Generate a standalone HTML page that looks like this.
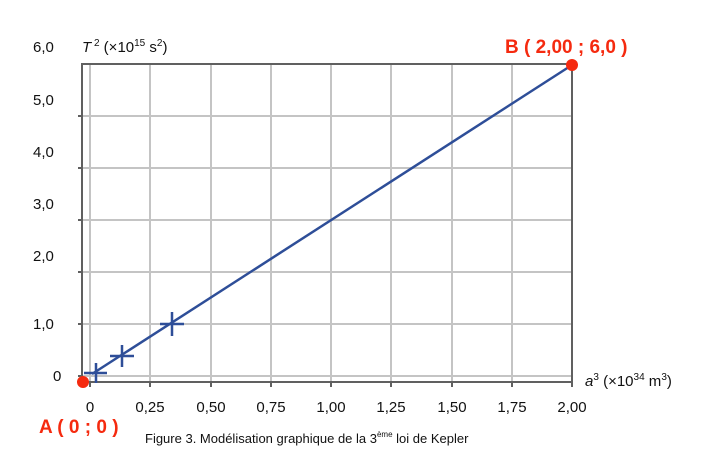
<!DOCTYPE html>
<html><head><meta charset="utf-8"><style>
body{margin:0;background:#fff;width:704px;height:470px;overflow:hidden}
</style></head><body>
<svg width="704" height="470" xmlns="http://www.w3.org/2000/svg" font-family="'Liberation Sans',sans-serif">
<g stroke="#c4c4c4" stroke-width="2">
<line x1="90" y1="64" x2="90" y2="382"/><line x1="150" y1="64" x2="150" y2="382"/><line x1="211" y1="64" x2="211" y2="382"/><line x1="271" y1="64" x2="271" y2="382"/><line x1="331" y1="64" x2="331" y2="382"/><line x1="391" y1="64" x2="391" y2="382"/><line x1="452" y1="64" x2="452" y2="382"/><line x1="512" y1="64" x2="512" y2="382"/>
<line x1="82" y1="116" x2="572" y2="116"/><line x1="82" y1="168" x2="572" y2="168"/><line x1="82" y1="220" x2="572" y2="220"/><line x1="82" y1="272" x2="572" y2="272"/><line x1="82" y1="324" x2="572" y2="324"/><line x1="82" y1="376" x2="572" y2="376"/>
</g>
<g stroke="#606060" stroke-width="2" fill="none">
<rect x="82" y="64" width="490" height="318"/>
<path d="M78 116H82M78 168H82M78 220H82M78 272H82M78 324H82M78 376H82M90 382V387M150 382V387M211 382V387M271 382V387M331 382V387M391 382V387M452 382V387M512 382V387M572 382V387"/>
</g>
<g stroke="#2e4e98" stroke-width="2.5" fill="none">
<line x1="92" y1="374" x2="572" y2="65"/>
<path d="M84 373H107M96 363V383M110 356H134M122 345V367M160 324H184M172 312V336"/>
</g>
<circle cx="83" cy="382" r="6" fill="#f52a0f"/>
<circle cx="572" cy="65" r="6" fill="#f52a0f"/>
<g font-size="15" fill="#111">
<text x="33" y="52">6,0</text><text x="33" y="105">5,0</text><text x="33" y="157">4,0</text><text x="33" y="209">3,0</text><text x="33" y="261">2,0</text><text x="33" y="329">1,0</text><text x="53" y="381">0</text>
<text x="90" y="412" text-anchor="middle">0</text><text x="150" y="412" text-anchor="middle">0,25</text><text x="211" y="412" text-anchor="middle">0,50</text><text x="271" y="412" text-anchor="middle">0,75</text><text x="331" y="412" text-anchor="middle">1,00</text><text x="391" y="412" text-anchor="middle">1,25</text><text x="452" y="412" text-anchor="middle">1,50</text><text x="512" y="412" text-anchor="middle">1,75</text><text x="572" y="412" text-anchor="middle">2,00</text>
<text x="82" y="52"><tspan font-style="italic">T</tspan><tspan font-size="10" dy="-6"> 2</tspan><tspan dy="6"> (×10</tspan><tspan font-size="10" dy="-6">15</tspan><tspan dy="6"> s</tspan><tspan font-size="10" dy="-6">2</tspan><tspan dy="6">)</tspan></text>
<text x="585" y="386"><tspan font-style="italic">a</tspan><tspan font-size="10" dy="-6">3</tspan><tspan dy="6"> (×10</tspan><tspan font-size="10" dy="-6">34</tspan><tspan dy="6"> m</tspan><tspan font-size="10" dy="-6">3</tspan><tspan dy="6">)</tspan></text>
</g>
<g font-size="19" font-weight="bold" fill="#f52a0f">
<text x="39" y="433">A ( 0 ; 0 )</text>
<text x="505" y="53">B ( 2,00 ; 6,0 )</text>
</g>
<text x="145" y="443" font-size="13" fill="#111">Figure 3. Modélisation graphique de la 3<tspan font-size="8" dy="-6">ème</tspan><tspan dy="6"> loi de Kepler</tspan></text>
</svg>
</body></html>
